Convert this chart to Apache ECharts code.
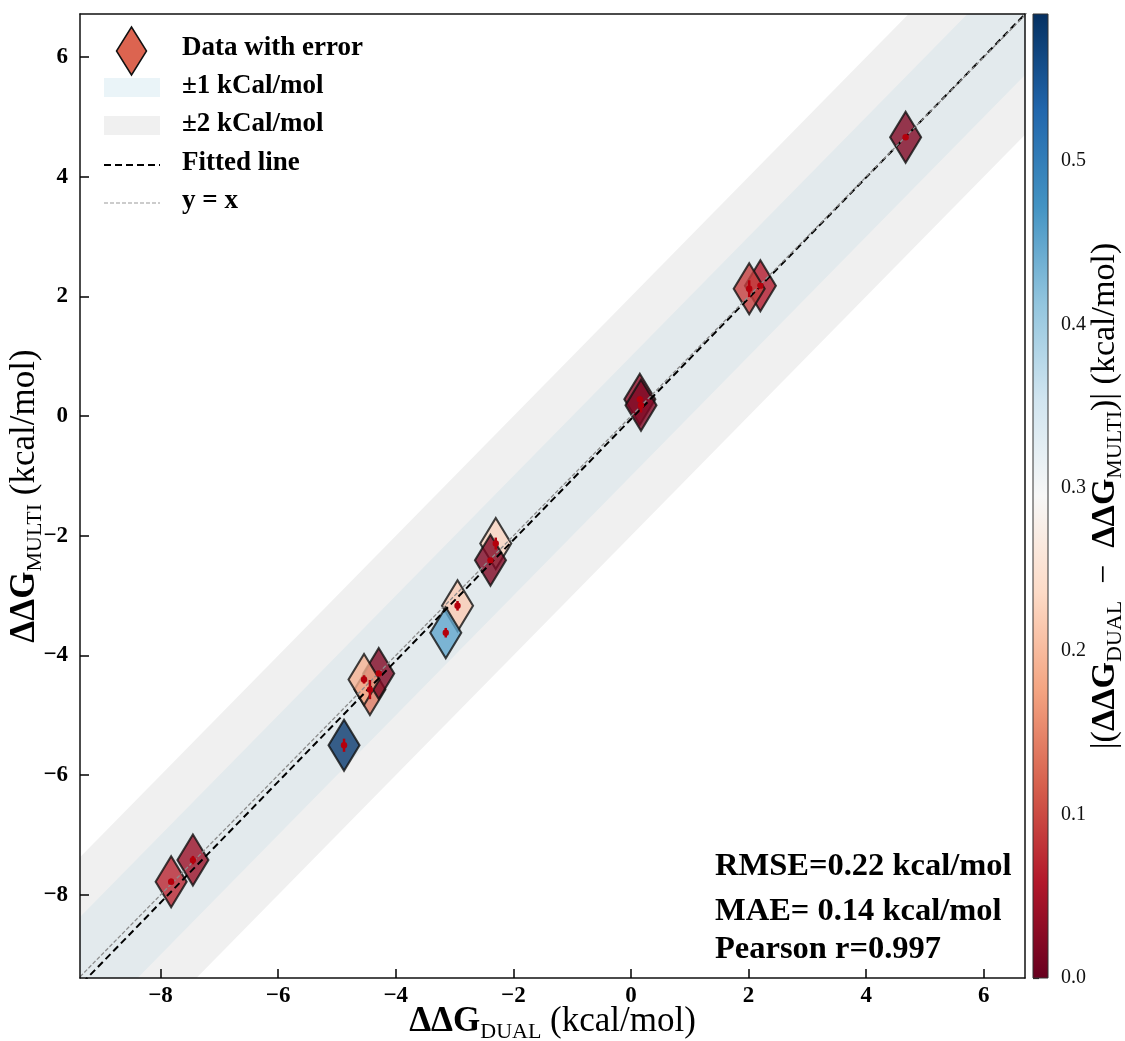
<!DOCTYPE html>
<html>
<head>
<meta charset="utf-8">
<script src="https://cdn.jsdelivr.net/npm/echarts@6/dist/echarts.min.js"></script>
<style>
  html, body { margin: 0; padding: 0; background: #fff; }
  #chart { width: 1125px; height: 1041px; }
</style>
</head>
<body>
<div id="chart"></div>
<script>
// ΔΔG from the dual-topology runs vs. the multi-topology runs (kcal/mol)
const xDual   = [4.67, 2.20, 2.01, 0.15, 0.17, -2.30, -2.39, -2.95, -3.15, -4.44, -4.29, -4.54, -4.88, -7.82, -7.45];
const yMulti  = [4.66, 2.18, 2.13, 0.28, 0.18, -2.13, -2.41, -3.17, -3.62, -4.57, -4.30, -4.40, -5.50, -7.78, -7.42];
// |ΔΔG_DUAL − ΔΔG_MULTI| used for the marker colour
const absDiff = [0.02, 0.06, 0.09, 0.03, 0.02, 0.23, 0.02, 0.22, 0.45, 0.14, 0.02, 0.19, 0.58, 0.07, 0.04];
// standard error on ΔΔG_MULTI
const yErr    = [0.04, 0.03, 0.14, 0.05, 0.12, 0.10, 0.02, 0.08, 0.08, 0.16, 0.03, 0.07, 0.11, 0.05, 0.07];

const tickValues = [-8, -6, -4, -2, 0, 2, 4, 6];
const cbarTicks = [0, 0.1, 0.2, 0.3, 0.4, 0.5];
const bandHalfWidths = [2, 1];             // ±2 and ±1 kcal/mol around y = x
const FIT_SLOPE = 1.01, FIT_INTERCEPT = -0.05;
const statLines = ['RMSE=0.22 kcal/mol', 'MAE= 0.14 kcal/mol', 'Pearson r=0.997'];
const legendLabels = ['Data with error', '\u00b11 kCal/mol', '\u00b12 kCal/mol', 'Fitted line', 'y = x'];

const X_MIN = -9.37, X_MAX = 6.70, Y_MIN = -9.39, Y_MAX = 6.72;
const CBAR_MAX = 0.59;

const SERIF = '"Liberation Serif", "Times New Roman", serif';
const RDBU = ['#67001f', '#b2182b', '#d6604d', '#f4a582', '#fddbc7', '#f7f7f7',
              '#d1e5f0', '#92c5de', '#4393c3', '#2166ac', '#053061'];
const BAND_COLORS = ['#f0f0f0', '#e3eaed'];
const ERR_COLOR = '#b5000c';

const minus = v => (v < 0 ? '\u2212' + Math.abs(v) : String(v));

const chart = echarts.init(document.getElementById('chart'), null, { renderer: 'canvas' });

const scatterData = xDual.map((x, i) => [x, yMulti[i], absDiff[i]]);
const errData = xDual.map((x, i) => [x, yMulti[i], yErr[i]]);
const fitX = [X_MIN - 1, X_MAX + 1];
const fitData = fitX.map(x => [x, FIT_SLOPE * x + FIT_INTERCEPT]);
const idData = fitX.map(x => [x, x]);

const frameAxis = (extra) => Object.assign({
  type: 'value', gridIndex: 0, min: X_MIN, max: X_MAX,
  axisLine: { show: true, onZero: false, lineStyle: { color: '#111', width: 1.5 } },
  axisTick: { show: false }, axisLabel: { show: false }, splitLine: { show: false }, z: 10
}, extra);

const nameRich = (size, subSize) => ({
  b: { fontFamily: SERIF, fontWeight: 'bold', fontSize: size, lineHeight: size + 8, verticalAlign: 'middle', color: '#000' },
  n: { fontFamily: SERIF, fontWeight: 'normal', fontSize: size, lineHeight: size + 8, verticalAlign: 'middle', color: '#000' },
  s: { fontFamily: SERIF, fontWeight: 'normal', fontSize: subSize, lineHeight: subSize, verticalAlign: 'bottom', color: '#000' }
});

const mainTickLabel = {
  fontFamily: SERIF, fontWeight: 'bold', fontSize: 23, color: '#000',
  formatter: minus, customValues: tickValues
};

const option = {
  animation: false,
  backgroundColor: '#fff',
  grid: [
    { left: 80, top: 14, width: 945, height: 964, containLabel: false, outerBoundsMode: 'none' },
    { left: 1033, top: 14, width: 15, height: 964, containLabel: false, outerBoundsMode: 'none' }
  ],
  xAxis: [
    frameAxis({
      position: 'bottom',
      axisTick: { show: true, inside: true, length: 9, customValues: tickValues, lineStyle: { color: '#000', width: 1.5 } },
      axisLabel: Object.assign({ show: true, margin: 7 }, mainTickLabel),
      name: '{b|ΔΔG}{s|DUAL}{n| (kcal/mol)}',
      nameLocation: 'middle', nameGap: 22, nameMoveOverlap: false,
      nameTextStyle: { rich: nameRich(35, 22) }
    }),
    frameAxis({ position: 'top' }),
    { type: 'value', gridIndex: 1, min: 0, max: 1, show: false }
  ],
  yAxis: [
    frameAxis({
      min: Y_MIN, max: Y_MAX, position: 'left',
      axisTick: { show: true, inside: true, length: 9, customValues: tickValues, lineStyle: { color: '#000', width: 1.5 } },
      axisLabel: Object.assign({ show: true, margin: 12 }, mainTickLabel),
      name: '{b|ΔΔG}{s|MULTI}{n| (kcal/mol)}',
      nameLocation: 'middle', nameGap: 34, nameRotate: 90, nameMoveOverlap: false,
      nameTextStyle: { rich: nameRich(35, 22) }
    }),
    frameAxis({ min: Y_MIN, max: Y_MAX, position: 'right' }),
    {
      type: 'value', gridIndex: 1, position: 'right', min: 0, max: CBAR_MAX,
      axisLine: { show: false },
      axisTick: { show: true, inside: false, length: 6, customValues: cbarTicks, lineStyle: { color: '#222', width: 1.2 } },
      axisLabel: { show: true, margin: 13, customValues: cbarTicks, formatter: v => v.toFixed(1),
                   fontFamily: SERIF, fontSize: 20, color: '#111' },
      splitLine: { show: false },
      name: '{n||(}{b|ΔΔG}{s|DUAL}{n|\u2002\u2212\u2002}{b|ΔΔG}{s|MULTI}{n|)| (kcal/mol)}',
      nameLocation: 'middle', nameGap: 36, nameRotate: 90, nameMoveOverlap: false,
      nameTextStyle: { rich: nameRich(34, 22) }
    }
  ],
  visualMap: {
    type: 'continuous', show: false, seriesIndex: 2, dimension: 2,
    min: 0, max: CBAR_MAX, inRange: { color: RDBU }
  },
  series: [
    // ±2 / ±1 kcal/mol bands around the identity line
    {
      type: 'custom', xAxisIndex: 0, yAxisIndex: 0, clip: true, z: 1, silent: true,
      data: bandHalfWidths.map(d => [d, d]),
      renderItem: (params, api) => {
        const d = api.value(0);
        const x0 = X_MIN - 1, x1 = X_MAX + 1;
        const pts = [[x0, x0 + d], [x1, x1 + d], [x1, x1 - d], [x0, x0 - d]].map(p => api.coord(p));
        return { type: 'polygon', shape: { points: pts }, style: { fill: BAND_COLORS[params.dataIndex] } };
      }
    },
    // colour bar
    {
      type: 'custom', xAxisIndex: 2, yAxisIndex: 2, z: 1, silent: true,
      data: [[0.5, CBAR_MAX / 2]],
      renderItem: (params) => {
        const cs = params.coordSys;
        const stops = RDBU.map((c, i) => ({ offset: i / (RDBU.length - 1), color: c }));
        return {
          type: 'rect', shape: { x: cs.x, y: cs.y, width: cs.width, height: cs.height },
          style: { fill: new echarts.graphic.LinearGradient(0, 1, 0, 0, stops), stroke: '#333', lineWidth: 1 }
        };
      }
    },
    // data points
    {
      type: 'scatter', xAxisIndex: 0, yAxisIndex: 0, z: 3,
      symbol: 'diamond', symbolSize: [31, 51],
      itemStyle: { opacity: 0.8, borderColor: '#111', borderWidth: 2.2 },
      data: scatterData
    },
    // fitted regression line
    {
      type: 'line', xAxisIndex: 0, yAxisIndex: 0, z: 4, showSymbol: false, silent: true,
      lineStyle: { color: '#000', width: 2, type: [7, 4] },
      data: fitData
    },
    // y = x
    {
      type: 'line', xAxisIndex: 0, yAxisIndex: 0, z: 4, showSymbol: false, silent: true,
      lineStyle: { color: '#8c8c8c', width: 1.3, type: [4, 2] },
      data: idData
    },
    // error bars
    {
      type: 'custom', xAxisIndex: 0, yAxisIndex: 0, z: 5, silent: true,
      encode: { x: 0, y: 1 },
      data: errData,
      renderItem: (params, api) => {
        const x = api.value(0), y = api.value(1), e = api.value(2);
        const lo = api.coord([x, y - e]), hi = api.coord([x, y + e]), c = api.coord([x, y]);
        return {
          type: 'group', children: [
            { type: 'line', shape: { x1: lo[0], y1: lo[1], x2: hi[0], y2: hi[1] }, style: { stroke: ERR_COLOR, lineWidth: 2.5 } },
            { type: 'circle', shape: { cx: c[0], cy: c[1], r: 3.2 }, style: { fill: ERR_COLOR } }
          ]
        };
      }
    }
  ],
  graphic: [
    // legend
    { type: 'polygon', z: 20, shape: { points: [[131.5, 27], [146.5, 51], [131.5, 75], [116.5, 51]] },
      style: { fill: '#dc6450', stroke: '#111', lineWidth: 1.5 } },
    { type: 'rect', z: 20, shape: { x: 104, y: 78, width: 56, height: 19 }, style: { fill: '#eaf4f8' } },
    { type: 'rect', z: 20, shape: { x: 104, y: 116, width: 56, height: 19 }, style: { fill: '#f0f0f0' } },
    { type: 'line', z: 20, shape: { x1: 104, y1: 165, x2: 160, y2: 165 }, style: { stroke: '#000', lineWidth: 2, lineDash: [7, 4] } },
    { type: 'line', z: 20, shape: { x1: 104, y1: 203, x2: 160, y2: 203 }, style: { stroke: '#999', lineWidth: 1.2, lineDash: [4, 2] } },
    ...legendLabels.map((t, i) => ({
      type: 'text', z: 20, x: 182, y: [35, 73, 111, 150, 188][i],
      style: { text: t, font: 'bold 27px ' + SERIF, fill: '#000', verticalAlign: 'top' }
    })),
    // summary statistics
    ...statLines.map((t, i) => ({
      type: 'text', z: 20, x: 715, y: [850, 895, 933][i],
      style: { text: t, font: 'bold 32.5px ' + SERIF, fill: '#000', verticalAlign: 'top' }
    }))
  ]
};

chart.setOption(option);
</script>
</body>
</html>
